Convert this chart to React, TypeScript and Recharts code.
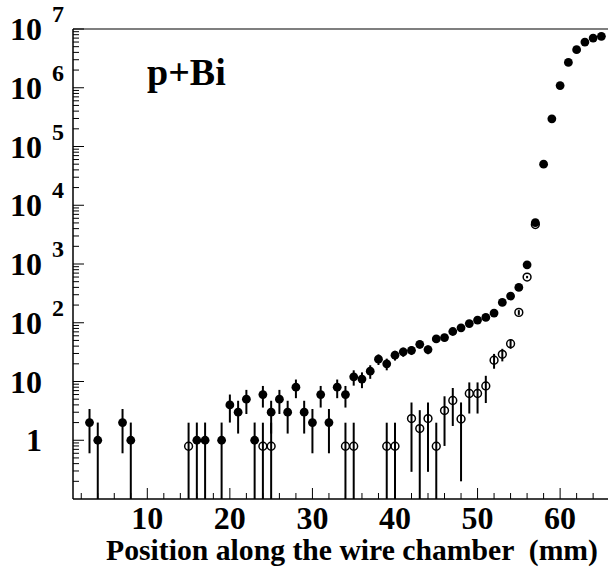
import React from 'react';
import { ScatterChart, Scatter, XAxis, YAxis, ErrorBar, ReferenceLine } from 'recharts';

// filled markers: all events
const FILLED_X = [3, 4, 7, 8, 16, 17, 19, 20, 21, 22, 23, 24, 25, 26, 27, 28, 29, 30, 31, 32, 33, 34, 35, 36, 37, 38, 39, 40, 41, 42, 43, 44, 45, 46, 47, 48, 49, 50, 51, 52, 53, 54, 55, 56, 57, 58, 59, 60, 61, 62, 63, 64, 65];
const FILLED_Y = [2, 1, 2, 1, 1, 1, 1, 4, 3, 5, 1, 6, 3, 5, 3, 8, 3, 2, 6, 2, 8, 6, 12, 11, 15, 24, 20, 28, 32, 34, 43, 35, 53, 56, 71, 82, 97, 111, 123, 146, 222, 285, 400, 970, 5060, 50000, 296000, 1090000, 2700000, 4440000, 6000000, 7000000, 7500000];
const FILLED_ERR = [1.4, 1, 1.4, 1, 1, 1, 1, 2, 1.7, 2.2, 1, 2.4, 1.7, 2.2, 1.7, 2.8, 1.7, 1.4, 2.4, 1.4, 2.8, 2.4, 3.5, 3.3, 3.9, 4.9, 4.5, 5.3, 5.7, 5.8, 6.6, 5.9, 7.3, 7.5, 8.4, 9, 10, 10.5, 11, 12, 15, 17, 20, 31, 71, 224, 544, 1044, 1643, 2107, 2449, 2646, 2739];

// open markers
const OPEN_X = [15, 24, 25, 34, 35, 39, 40, 42, 43, 44, 45, 46, 47, 48, 49, 50, 51, 52, 53, 54, 55, 56, 57];
const OPEN_Y = [0.79, 0.79, 0.79, 0.79, 0.79, 0.79, 0.79, 2.34, 1.58, 2.34, 0.79, 3.2, 4.75, 2.3, 6.25, 6.25, 8.4, 23, 29, 44, 150, 600, 4700];
const OPEN_ERR = [1.2, 1.2, 1.2, 1.2, 1.2, 1.2, 1.2, 2.05, 1.67, 2.05, 1.2, 2.4, 3, 2.1, 3.4, 3.4, 4.1, 6.5, 7, 8, 14, 28, 80];

const X_TICKS = [2, 4, 6, 8, 10, 12, 14, 16, 18, 20, 22, 24, 26, 28, 30, 32, 34, 36, 38, 40, 42, 44, 46, 48, 50, 52, 54, 56, 58, 60, 62, 64];
const X_LABELS = [10, 20, 30, 40, 50, 60];
const Y_DECADES = [1, 10, 100, 1e3, 1e4, 1e5, 1e6, 1e7];
const Y_MINOR_STEPS = [2, 3, 4, 5, 6, 7, 8, 9];

const X_MIN = 1;
const X_MAX = 65.8;
const Y_MIN = 0.1;
const Y_MAX = 1e7;

const Y_TICKS = [
    ...[0.1, 1, 10, 100, 1e3, 1e4, 1e5, 1e6].flatMap((d) => Y_MINOR_STEPS.map((m) => m * d)),
    ...Y_DECADES
];

// lower error is clipped at the bottom of the log axis
const toRows = (xs: number[], ys: number[], errs: number[]) =>
    xs.map((x, i) => ({
        x,
        y: ys[i],
        err: [Math.min(errs[i], ys[i] - Y_MIN), errs[i]]
    }));

const filledData = toRows(FILLED_X, FILLED_Y, FILLED_ERR);
const openData = toRows(OPEN_X, OPEN_Y, OPEN_ERR);

const FONT = '"Liberation Serif", "Times New Roman", serif';

const FilledDot = (p: any) => <circle cx={p.cx} cy={p.cy} r={4.4} fill="#000" />;
const OpenDot = (p: any) => (
    <circle cx={p.cx} cy={p.cy} r={3.9} fill="none" stroke="#000" strokeWidth={1.5} />
);

function YTick({ x, y, payload }: any) {
    const v = payload.value;
    const lg = Math.log10(v);
    const exp = Math.round(lg);
    const major = Math.abs(lg - exp) < 1e-6 && v >= 1;
    return (
        <g>
            <line x1={x} x2={x + (major ? 11 : 6)} y1={y} y2={y} stroke="#000" strokeWidth={1} />
            {major && (
                <text x={x - 31} y={y + 11} textAnchor="end" fontSize={32} fontWeight="bold" fontFamily={FONT} fill="#000">
                    {exp === 0 ? '1' : '10'}
                </text>
            )}
            {major && exp >= 2 && (
                <text x={x - 21} y={y - 7} fontSize={24} fontWeight="bold" fontFamily={FONT} fill="#000">
                    {exp}
                </text>
            )}
        </g>
    );
}

function XTick({ x, y, payload }: any) {
    const v = payload.value;
    const major = X_LABELS.includes(v);
    return (
        <g>
            <line x1={x} x2={x} y1={y} y2={y - (major ? 11 : 6)} stroke="#000" strokeWidth={1} />
            {major && (
                <text x={x} y={y + 30} textAnchor="middle" fontSize={32} fontWeight="bold" fontFamily={FONT} fill="#000">
                    {v}
                </text>
            )}
        </g>
    );
}

export default function App() {
    return (
        <div style={{ position: 'absolute', left: 0, top: 0, width: 608, height: 571, background: '#fff' }}>
            <ScatterChart width={608} height={571} margin={{ top: 29, right: 0, bottom: 0, left: 0 }}>
                <XAxis
                    type="number"
                    dataKey="x"
                    domain={[X_MIN, X_MAX]}
                    allowDataOverflow
                    ticks={X_TICKS}
                    interval={0}
                    tickSize={0}
                    tickMargin={0}
                    tickLine={false}
                    tick={<XTick />}
                    height={72}
                    axisLine={{ stroke: '#000', strokeWidth: 1.5 }}
                />
                <YAxis
                    type="number"
                    dataKey="y"
                    scale="log"
                    domain={[Y_MIN, Y_MAX]}
                    allowDataOverflow
                    ticks={Y_TICKS}
                    interval={0}
                    tickSize={0}
                    tickMargin={0}
                    tickLine={false}
                    tick={<YTick />}
                    width={73}
                    axisLine={{ stroke: '#000', strokeWidth: 1.5 }}
                />
                <ReferenceLine y={Y_MAX} stroke="#000" strokeWidth={1.2} />
                <Scatter data={openData} shape={OpenDot} isAnimationActive={false}>
                    <ErrorBar dataKey="err" direction="y" width={0} stroke="#000" strokeWidth={2} isAnimationActive={false} />
                </Scatter>
                <Scatter data={filledData} shape={FilledDot} isAnimationActive={false}>
                    <ErrorBar dataKey="err" direction="y" width={0} stroke="#000" strokeWidth={2} isAnimationActive={false} />
                </Scatter>
            </ScatterChart>
            <svg
                width={608}
                height={571}
                style={{ position: 'absolute', left: 0, top: 0, pointerEvents: 'none' }}
            >
                <text x={147} y={85} fontSize={38} fontWeight="bold" fontFamily={FONT} fill="#000">
                    p+Bi
                </text>
                <text x={598} y={560} textAnchor="end" fontSize={29.7} fontWeight="bold" fontFamily={FONT} fill="#000" style={{ whiteSpace: 'pre' }}>
                    Position along the wire chamber  (mm)
                </text>
            </svg>
        </div>
    );
}
